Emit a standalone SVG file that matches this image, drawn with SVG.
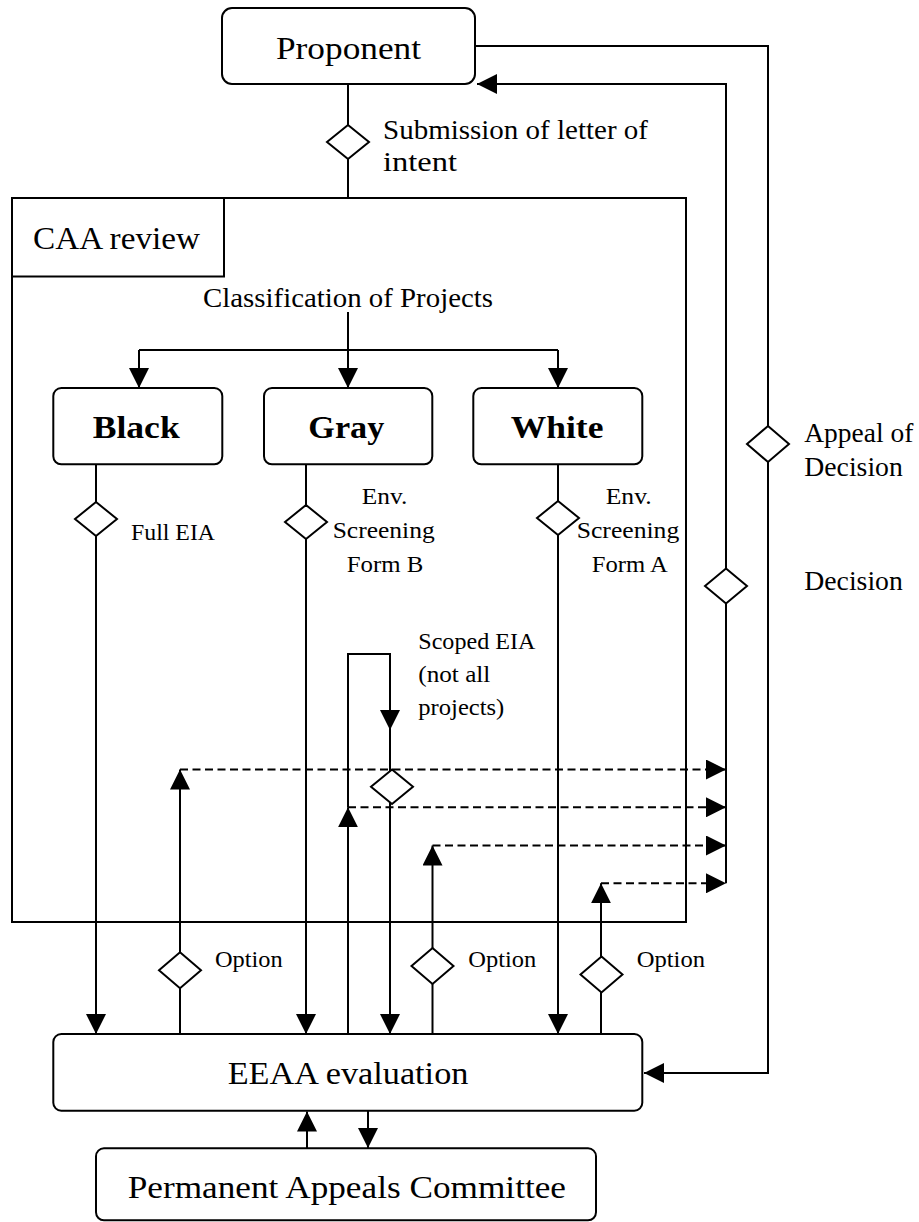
<svg xmlns="http://www.w3.org/2000/svg" width="919" height="1222" viewBox="0 0 919 1222">
<style>
text{font-family:"Liberation Serif","Times New Roman",serif;fill:#000}
.big{font-size:32px}
.med{font-size:27px}
.sm{font-size:23px}
.bold{font-size:31px;font-weight:bold}
.box{fill:#fff;stroke:#000;stroke-width:2}
.frame{fill:none;stroke:#000;stroke-width:2}
.ln{fill:none;stroke:#000;stroke-width:2}
.arr{fill:none;stroke:#000;stroke-width:2;marker-end:url(#ah)}
.dash{fill:none;stroke:#000;stroke-width:2;stroke-dasharray:8 4.5;marker-end:url(#ah)}
.dia{fill:#fff;stroke:#000;stroke-width:2}
</style>
<defs>
<marker id="ah" viewBox="0 0 20 20" refX="20" refY="10" markerWidth="20" markerHeight="20" markerUnits="userSpaceOnUse" orient="auto">
<path d="M0,0 L20,10 L0,20 z" fill="#000"/>
</marker>
</defs>

<g id="caa-review">
<rect class="frame" x="12" y="198" width="674" height="724"/>
<rect class="frame" x="12" y="198" width="212" height="78.5"/>
<text class="big" x="33" y="249" textLength="167" lengthAdjust="spacingAndGlyphs">CAA review</text>
<text class="med" x="203" y="306.5" textLength="290" lengthAdjust="spacingAndGlyphs">Classification of Projects</text>
</g>

<g id="connectors">
<path class="ln" d="M348,84 V198"/>
<path class="arr" d="M348,312 V388"/>
<path class="ln" d="M139,350 H558"/>
<path class="arr" d="M139,350 V388"/>
<path class="arr" d="M558,350 V388"/>
<path class="arr" d="M96,464 V1034"/>
<path class="arr" d="M306,464 V1034"/>
<path class="arr" d="M558,464 V1034"/>
<path class="arr" d="M348,1034 V807.3"/>
<path class="arr" d="M348,807.3 V654 H390 V730"/>
<path class="arr" d="M390,730 V1034"/>
<path class="arr" d="M180,1034 V769.5"/>
<path class="arr" d="M432.5,1034 V845.5"/>
<path class="arr" d="M601,1034 V883.3"/>
<path class="dash" d="M180,769.5 H726"/>
<path class="dash" d="M348,807.3 H726"/>
<path class="dash" d="M432.5,845.5 H726"/>
<path class="dash" d="M601,883.3 H726"/>
<path class="arr" d="M726,883.3 V84 H477"/>
<path class="arr" d="M475,46 H768 V1073 H644"/>
<path class="arr" d="M307,1148 V1111.5"/>
<path class="arr" d="M368,1110.7 V1148"/>
</g>

<g id="proponent">
<rect class="box" x="222" y="8" width="253" height="76" rx="10"/>
<text class="big" x="276" y="59" textLength="145" lengthAdjust="spacingAndGlyphs">Proponent</text>
</g>

<g id="d-submission">
<polygon class="dia" points="348,125 369,142 348,159 327,142"/>
<text class="med" x="383" y="139" textLength="265" lengthAdjust="spacingAndGlyphs">Submission of letter of</text>
<text class="med" x="383" y="171" textLength="74" lengthAdjust="spacingAndGlyphs">intent</text>
</g>

<g id="black">
<rect class="box" x="53.3" y="388" width="169" height="76.3" rx="8"/>
<text class="bold" x="92.7" y="438" textLength="87" lengthAdjust="spacingAndGlyphs">Black</text>
</g>
<g id="gray">
<rect class="box" x="264" y="388" width="168.3" height="76.3" rx="8"/>
<text class="bold" x="308.3" y="438" textLength="76" lengthAdjust="spacingAndGlyphs">Gray</text>
</g>
<g id="white">
<rect class="box" x="473.3" y="388" width="169" height="76.3" rx="8"/>
<text class="bold" x="510.7" y="438" textLength="92.7" lengthAdjust="spacingAndGlyphs">White</text>
</g>

<g id="d-full-eia">
<polygon class="dia" points="96,502 117,519 96,536 75,519"/>
<text class="sm" x="131" y="540" textLength="84" lengthAdjust="spacingAndGlyphs">Full EIA</text>
</g>
<g id="d-form-b">
<polygon class="dia" points="306,505 327,522 306,539 285,522"/>
<text class="sm" x="361.7" y="504" textLength="45.6" lengthAdjust="spacingAndGlyphs">Env.</text>
<text class="sm" x="332.7" y="538" textLength="102" lengthAdjust="spacingAndGlyphs">Screening</text>
<text class="sm" x="346.7" y="572" textLength="76.6" lengthAdjust="spacingAndGlyphs">Form B</text>
</g>
<g id="d-form-a">
<polygon class="dia" points="558,501 579,518 558,535 537,518"/>
<text class="sm" x="605.7" y="504" textLength="46" lengthAdjust="spacingAndGlyphs">Env.</text>
<text class="sm" x="576.7" y="538" textLength="102.6" lengthAdjust="spacingAndGlyphs">Screening</text>
<text class="sm" x="591.7" y="572" textLength="76" lengthAdjust="spacingAndGlyphs">Form A</text>
</g>

<g id="d-appeal">
<polygon class="dia" points="768,426 789,444 768,462 747,444"/>
<text class="med" x="804.3" y="442.3" textLength="109" lengthAdjust="spacingAndGlyphs">Appeal of</text>
<text class="med" x="804.3" y="476" textLength="98.5" lengthAdjust="spacingAndGlyphs">Decision</text>
</g>
<g id="d-decision">
<polygon class="dia" points="726,568.5 747,586 726,603.5 705,586"/>
<text class="med" x="804.3" y="590" textLength="98.5" lengthAdjust="spacingAndGlyphs">Decision</text>
</g>

<g id="d-scoped">
<polygon class="dia" points="392,769.5 413,786.7 392,804 371,786.7"/>
<text class="sm" x="418.3" y="648.5" textLength="117" lengthAdjust="spacingAndGlyphs">Scoped EIA</text>
<text class="sm" x="418.3" y="681.7" textLength="72" lengthAdjust="spacingAndGlyphs">(not all</text>
<text class="sm" x="418.3" y="715" textLength="86" lengthAdjust="spacingAndGlyphs">projects)</text>
</g>

<g id="d-option-1">
<polygon class="dia" points="180,952.3 201,970.3 180,988.3 159,970.3"/>
<text class="sm" x="215" y="966.7" textLength="67.7" lengthAdjust="spacingAndGlyphs">Option</text>
</g>
<g id="d-option-2">
<polygon class="dia" points="432.5,948 453.5,966 432.5,984 411.5,966"/>
<text class="sm" x="468.3" y="966.7" textLength="68" lengthAdjust="spacingAndGlyphs">Option</text>
</g>
<g id="d-option-3">
<polygon class="dia" points="601.5,956.5 622.5,974.5 601.5,992.5 580.5,974.5"/>
<text class="sm" x="636.7" y="966.7" textLength="68.3" lengthAdjust="spacingAndGlyphs">Option</text>
</g>

<g id="eeaa-evaluation">
<rect class="box" x="53.3" y="1034" width="589" height="76.7" rx="8"/>
<text class="big" x="227.7" y="1084.3" textLength="240.7" lengthAdjust="spacingAndGlyphs">EEAA evaluation</text>
</g>

<g id="permanent-appeals-committee">
<rect class="box" x="96" y="1148.3" width="500" height="72" rx="8"/>
<text class="big" x="127.7" y="1197.7" textLength="438.3" lengthAdjust="spacingAndGlyphs">Permanent Appeals Committee</text>
</g>
</svg>
